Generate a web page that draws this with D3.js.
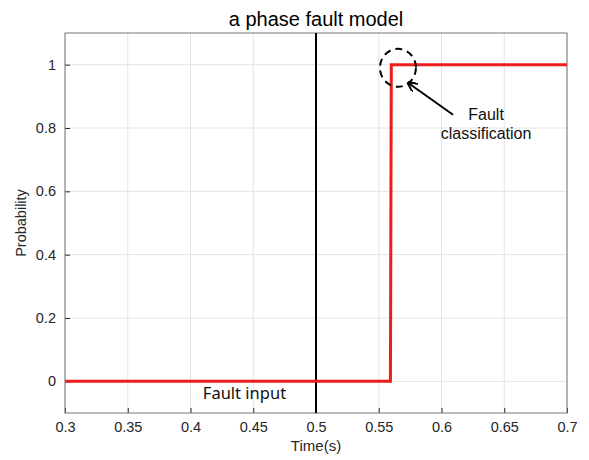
<!DOCTYPE html>
<html>
<head>
<meta charset="utf-8">
<script src="https://cdn.jsdelivr.net/npm/d3@7"></script>
<style>
  body { margin: 0; background: #fff; }
  text { font-family: "Liberation Sans", Arial, sans-serif; }
</style>
</head>
<body>
<svg id="chart" width="589" height="460"></svg>
<script>
// step output of the classifier
const stepTime = [0.3, 0.5593, 0.5600, 0.7];
const stepProb = [0, 0, 1, 1];
const faultTime = 0.5;
const xTicks = [0.3, 0.35, 0.4, 0.45, 0.5, 0.55, 0.6, 0.65, 0.7];
const yTicks = [0, 0.2, 0.4, 0.6, 0.8, 1];
const noteLines = ['Fault', 'classification'];

const width = 589, height = 460;
const margin = {top: 33, right: 22, bottom: 47, left: 65};

const svg = d3.select('#chart');

var x = d3.scaleLinear().domain([0.3, 0.7]).range([margin.left, width - margin.right]);
var y = d3.scaleLinear().domain([-0.1, 1.1]).range([height - margin.bottom, margin.top]);

// grid
svg.append('g')
  .selectAll('line')
  .data(xTicks)
  .join('line')
    .attr('x1', d => x(d)).attr('x2', d => x(d))
    .attr('y1', y(-0.1)).attr('y2', y(1.1))
    .attr('stroke', '#e4e4e4');

svg.append('g')
  .selectAll('line')
  .data(yTicks)
  .join('line')
    .attr('x1', x(0.3)).attr('x2', x(0.7))
    .attr('y1', d => y(d)).attr('y2', d => y(d))
    .attr('stroke', '#e4e4e4');

// axes
var xAxis = d3.axisBottom(x).tickValues(xTicks).tickSize(-5).tickPadding(9).tickFormat(d3.format('~g'));
var yAxis = d3.axisLeft(y).tickValues(yTicks).tickSize(-5).tickPadding(9).tickFormat(d3.format('~g'));

var gx = svg.append('g')
  .attr('transform', 'translate(0,' + y(-0.1) + ')')
  .call(xAxis);
var gy = svg.append('g')
  .attr('transform', 'translate(' + x(0.3) + ',0)')
  .call(yAxis);

[gx, gy].forEach(function(g) {
  g.select('.domain').remove();
  g.selectAll('line').attr('stroke', '#262626');
  g.selectAll('text').attr('fill', '#262626').style('font-size', '14.5px');
});

// box
svg.append('rect')
  .attr('x', x(0.3)).attr('y', y(1.1))
  .attr('width', x(0.7) - x(0.3)).attr('height', y(-0.1) - y(1.1))
  .attr('fill', 'none')
  .attr('stroke', '#777');

// fault input marker
svg.append('line')
  .attr('x1', x(faultTime)).attr('x2', x(faultTime))
  .attr('y1', y(1.1)).attr('y2', y(-0.1))
  .attr('stroke', '#000')
  .attr('stroke-width', 2);

// red step
var line = d3.line()
  .x((d, i) => x(stepTime[i]))
  .y(d => y(d));

svg.append('path')
  .datum(stepProb)
  .attr('d', line)
  .attr('fill', 'none')
  .attr('stroke', '#ee1c1c')
  .attr('stroke-width', 3);

// annotation: circle + arrow
svg.append('ellipse')
  .attr('cx', x(0.5653)).attr('cy', y(0.99))
  .attr('rx', 18).attr('ry', 19)
  .attr('fill', 'none')
  .attr('stroke', '#000')
  .attr('stroke-width', 2)
  .attr('stroke-dasharray', '7,5');

svg.append('defs').append('marker')
  .attr('id', 'arrow')
  .attr('viewBox', '0 0 10 10')
  .attr('refX', 9).attr('refY', 5)
  .attr('markerWidth', 5).attr('markerHeight', 5)
  .attr('orient', 'auto')
  .append('path')
    .attr('d', 'M0,0 L10,5 L0,10')
    .attr('fill', 'none')
    .attr('stroke', '#000')
    .attr('stroke-width', 2);

svg.append('line')
  .attr('x1', x(0.6092)).attr('y1', y(0.842))
  .attr('x2', x(0.5733)).attr('y2', y(0.943))
  .attr('stroke', '#000')
  .attr('stroke-width', 2)
  .attr('marker-end', 'url(#arrow)');

svg.append('g')
  .selectAll('text')
  .data(noteLines)
  .join('text')
    .attr('x', x(0.6355))
    .attr('y', (d, i) => y(0.826) + i * 19)
    .attr('text-anchor', 'middle')
    .style('font-size', '16px')
    .attr('fill', '#111')
    .text(d => d);

svg.append('text')
  .attr('x', x(0.443)).attr('y', y(-0.056))
  .attr('text-anchor', 'middle')
  .style('font-family', '"Noto Sans", sans-serif')
  .style('font-size', '16.5px')
  .attr('fill', '#111')
  .text('Fault input');

// labels
svg.append('text')
  .attr('x', (margin.left + width - margin.right) / 2).attr('y', 26)
  .attr('text-anchor', 'middle')
  .style('font-size', '20px')
  .attr('fill', '#000')
  .text('a phase fault model');

svg.append('text')
  .attr('x', (margin.left + width - margin.right) / 2).attr('y', 451)
  .attr('text-anchor', 'middle')
  .style('font-size', '15px')
  .attr('fill', '#262626')
  .text('Time(s)');

svg.append('text')
  .attr('transform', 'translate(26,' + ((margin.top + height - margin.bottom) / 2) + ') rotate(-90)')
  .attr('text-anchor', 'middle')
  .style('font-size', '14.5px')
  .attr('fill', '#262626')
  .text('Probability');
</script>
</body>
</html>
